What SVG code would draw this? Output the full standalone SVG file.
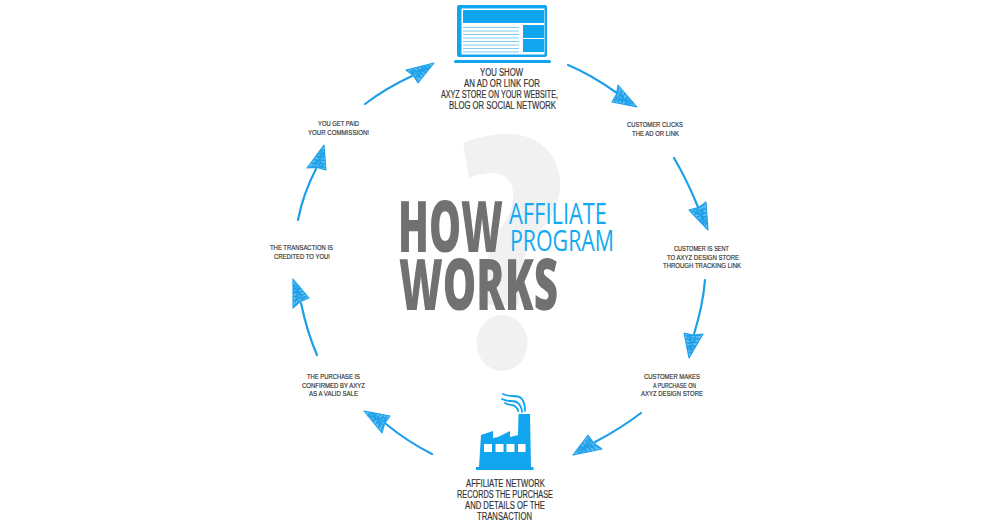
<svg xmlns="http://www.w3.org/2000/svg" xmlns:xlink="http://www.w3.org/1999/xlink" width="1000" height="524" viewBox="0 0 1000 524">
<style>
.blue{fill:#12a5ef}
.lbl{font-family:"Liberation Sans","Open Sans",sans-serif;fill:#333;stroke:#333;stroke-width:.18px;font-weight:400}
.s{font-size:7.300px}
.l{font-size:10px}
.big{font-family:"Open Sans","Liberation Sans",sans-serif;font-weight:800;font-size:71px;fill:#707173}
.aff{font-family:"Open Sans","Liberation Sans",sans-serif;font-weight:400;font-size:28.500px;fill:#12aaf0}
.shaft{fill:none;stroke:#1c9fe9;stroke-width:2.200;stroke-linecap:round}
.scr{fill:#1c9fe9;fill-opacity:.65;stroke:#1c9fe9;stroke-width:1.100;stroke-linejoin:round;vector-effect:non-scaling-stroke}
.hatch{fill:none;stroke:#1c9fe9;stroke-width:1.100;vector-effect:non-scaling-stroke}
</style>
<defs>
<g id="head">
<path class="scr" d="M30 0L0 -10L2 0L0 10Z"/>
<path class="hatch" d="M2 -8L3 8L7 -7L7 7L11 -6L11 6L15 -5L15 5L19 -3L19 3L23 -2L24 2M2 -3L22 2M2 3L22 -2M4 6L18 -4M4 -6L18 4"/>
</g>
</defs>
<rect width="1000" height="524" fill="#fff"/>
<g id="question-mark" fill="#f1f1f1">
<path d="M463 143C478 137 493 134 507 134C540 134 560 155 560 183C560 208 548 222 537 235C528 246 523 258 521 275L519 305L486 305L486 272C486 250 494 236 503 225C510 216 513 206 513 193C513 182 505 173 493 173C484 173 476 175 469 178Z"/>
<ellipse cx="502" cy="343" rx="25.500" ry="28"/>
</g>
<g id="title">
<text class="big" x="398" y="252" textLength="105" lengthAdjust="spacingAndGlyphs">HOW</text>
<text class="big" x="399" y="310" textLength="159" lengthAdjust="spacingAndGlyphs">WORKS</text>
<text class="aff" x="509" y="223.500" textLength="98" lengthAdjust="spacingAndGlyphs">AFFILIATE</text>
<text class="aff" x="510" y="251" textLength="104" lengthAdjust="spacingAndGlyphs">PROGRAM</text>
</g>
<g id="node-laptop">
<rect class="blue" x="457" y="5" width="90" height="52" rx="2"/>
<rect x="461.500" y="8.500" width="83" height="46" fill="#fff"/>
<rect class="blue" x="463" y="10" width="81" height="13"/>
<rect class="blue" x="523" y="25" width="21" height="13"/>
<rect class="blue" x="523" y="39" width="21" height="13"/>
<path d="M463 27.500H519M463 31H519M463 34.500H519M463 38H519M463 41.500H519M463 45H519M463 48.500H519M463 52H519" stroke="#7fcdf5" stroke-width="1.200"/>
<rect class="blue" x="454" y="60" width="97" height="3" rx="1.500"/>
<g class="lbl l">
<text x="480" y="76" textLength="43" lengthAdjust="spacingAndGlyphs">YOU SHOW</text>
<text x="464" y="87" textLength="76" lengthAdjust="spacingAndGlyphs">AN AD OR LINK FOR</text>
<text x="441" y="98" textLength="117" lengthAdjust="spacingAndGlyphs">AXYZ STORE ON YOUR WEBSITE,</text>
<text x="449" y="109" textLength="107" lengthAdjust="spacingAndGlyphs">BLOG OR SOCIAL NETWORK</text>
</g>
</g>
<g id="node-customer-clicks" class="lbl s">
<text x="627" y="127" textLength="56" lengthAdjust="spacingAndGlyphs">CUSTOMER CLICKS</text>
<text x="632" y="135.500" textLength="47" lengthAdjust="spacingAndGlyphs">THE AD OR LINK</text>
</g>
<g id="node-customer-sent" class="lbl s">
<text x="674" y="251" textLength="55" lengthAdjust="spacingAndGlyphs">CUSTOMER IS SENT</text>
<text x="667" y="259.500" textLength="72" lengthAdjust="spacingAndGlyphs">TO AXYZ DESIGN STORE</text>
<text x="663" y="268" textLength="78" lengthAdjust="spacingAndGlyphs">THROUGH TRACKING LINK</text>
</g>
<g id="node-customer-makes" class="lbl s">
<text x="644" y="379" textLength="56" lengthAdjust="spacingAndGlyphs">CUSTOMER MAKES</text>
<text x="653" y="387.500" textLength="43" lengthAdjust="spacingAndGlyphs">A PURCHASE ON</text>
<text x="641" y="396" textLength="62" lengthAdjust="spacingAndGlyphs">AXYZ DESIGN STORE</text>
</g>
<g id="node-factory">
<path class="blue" d="M481 435L493 431V438L498 437L510 431V437L518 435L518.500 414H530L531 467H533.500V470H476V467H479Z"/>
<g fill="#fff">
<rect x="484" y="444" width="8" height="8"/>
<rect x="495.500" y="444" width="8" height="8"/>
<rect x="506.500" y="444" width="8" height="8"/>
<rect x="518" y="444" width="7.500" height="8"/>
</g>
<path d="M503 394C510 398 516 394 521 398C524 401 525 405 525 411M502 399C509 403 514 399 518 403C521 406 522 409 522 412M505 403C510 406 513 404 516 407C517 408 518 409 518 411" fill="none" stroke="#12a5ef" stroke-width="1.800" stroke-linecap="round"/>
<g class="lbl l">
<text x="466" y="487" textLength="79" lengthAdjust="spacingAndGlyphs">AFFILIATE NETWORK</text>
<text x="457" y="498" textLength="96" lengthAdjust="spacingAndGlyphs">RECORDS THE PURCHASE</text>
<text x="465" y="508.500" textLength="80" lengthAdjust="spacingAndGlyphs">AND DETAILS OF THE</text>
<text x="477" y="520" textLength="55" lengthAdjust="spacingAndGlyphs">TRANSACTION</text>
</g>
</g>
<g id="node-purchase-confirmed" class="lbl s">
<text x="307" y="379" textLength="53" lengthAdjust="spacingAndGlyphs">THE PURCHASE IS</text>
<text x="302" y="387.500" textLength="63" lengthAdjust="spacingAndGlyphs">CONFIRMED BY AXYZ</text>
<text x="309" y="396" textLength="49" lengthAdjust="spacingAndGlyphs">AS A VALID SALE</text>
</g>
<g id="node-transaction-credited" class="lbl s">
<text x="270" y="250" textLength="63" lengthAdjust="spacingAndGlyphs">THE TRANSACTION IS</text>
<text x="274" y="259" textLength="56" lengthAdjust="spacingAndGlyphs">CREDITED TO YOU!</text>
</g>
<g id="node-commission" class="lbl s">
<text x="318" y="126" textLength="41" lengthAdjust="spacingAndGlyphs">YOU GET PAID</text>
<text x="308" y="135" textLength="61" lengthAdjust="spacingAndGlyphs">YOUR COMMISSION!</text>
</g>
<g id="connectors">
<path class="shaft" d="M568 65Q590 74 617 93"/>
<use xlink:href="#head" href="#head" transform="matrix(.733 .45 -.3 .85 615 93.500)"/>
<path class="shaft" d="M674 158Q687 180 698 207"/>
<use xlink:href="#head" href="#head" transform="matrix(.35 .8 -.85 .4 697.500 206)"/>
<path class="shaft" d="M705 280Q703 305 694 334"/>
<use xlink:href="#head" href="#head" transform="matrix(-.15 .817 -.95 -.05 693.500 333.500)"/>
<path class="shaft" d="M641 413Q620 429 595 442"/>
<use xlink:href="#head" href="#head" transform="matrix(-.733 .433 -.7 -.7 595 442)"/>
<path class="shaft" d="M432 454Q408 442 386 424"/>
<use xlink:href="#head" href="#head" transform="matrix(-.733 -.45 .4 -.85 386 424.500)"/>
<path class="shaft" d="M317 355Q307 332 301 303"/>
<use xlink:href="#head" href="#head" transform="matrix(-.267 -.8 .8 -.5 301 303)"/>
<path class="shaft" d="M298 220Q303 194 316 169"/>
<use xlink:href="#head" href="#head" transform="matrix(.25 -.8 .95 .1 316.500 169)"/>
<path class="shaft" d="M365 104Q386 88 412 76"/>
<use xlink:href="#head" href="#head" transform="matrix(.733 -.45 -.6 -.65 412 76.500)"/>
</g>
</svg>
